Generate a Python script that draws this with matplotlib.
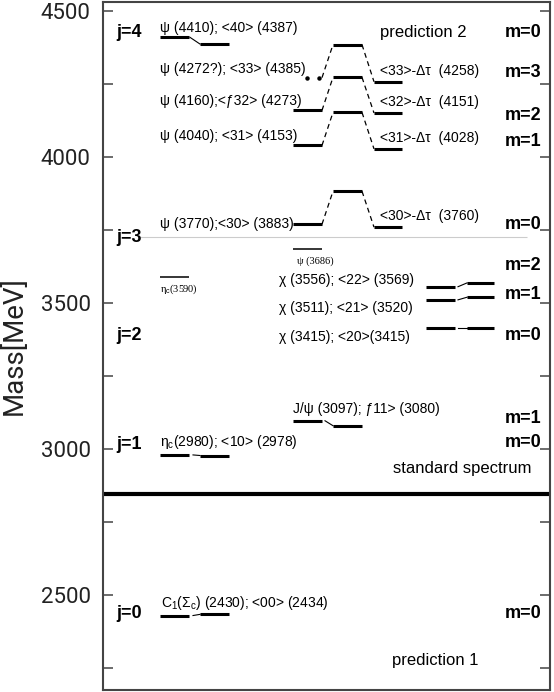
import matplotlib.pyplot as plt
from matplotlib.ticker import MultipleLocator

plt.rcParams['font.family'] = ['Liberation Sans', 'DejaVu Sans']
plt.rcParams['mathtext.fontset'] = 'custom'
plt.rcParams['mathtext.rm'] = 'Liberation Sans'
plt.rcParams['mathtext.it'] = 'Liberation Sans:italic'

# --- data (masses in MeV) ---
j4_pair = [4410, 4387]            # psi(4410) ; <40>
p2_exp = [4272, 4160, 4040, 3770]      # measured
p2_model = [4385, 4273, 4153, 3883]    # <jm>
p2_shift = [4258, 4151, 4028, 3760]    # <jm> - delta tau
p2_left_names = ["ψ (4272?); <33> (4385)", "ψ (4160);<ƒ32> (4273)",
                 "ψ (4040); <31> (4153)", "ψ (3770);<30> (3883)"]
p2_right_names = ["<33>-Δτ  (4258)", "<32>-Δτ  (4151)",
                  "<31>-Δτ  (4028)", "<30>-Δτ  (3760)"]
chi_exp = [3556, 3511, 3415]
chi_model = [3569, 3520, 3415]
chi_names = ["χ (3556); <22> (3569)", "χ (3511); <21> (3520)",
             "χ (3415); <20>(3415)"]
jpsi_pair = [3097, 3080]
etac_pair = [2980, 2978]
c1_pair = [2430, 2434]
psi_3686 = 3686
etac_3590 = 3590
standard_line = 2845
j3_separator = 3725

j_labels = ["j=4", "j=3", "j=2", "j=1", "j=0"]
j_label_pos = [4425, 3723, 3390, 3014, 2438]
m_labels = ["m=0", "m=3", "m=2", "m=1", "m=0", "m=2", "m=1", "m=0",
            "m=1", "m=0", "m=0"]
m_label_pos = [4425, 4291, 4142, 4053, 3770, 3627, 3531, 3390,
               3106, 3021, 2438]

# --- layout (x in pixel-like units) ---
col_a = (160, 189)
col_a2 = (200, 229)
col_b = (293, 322)
col_c = (333, 362)
col_d = (374, 402)
col_e = (426, 455)
col_f = (467, 494)
lw_lev = 2.2
fs = 10

fig = plt.figure(figsize=(5.54, 6.92), dpi=100)
ax = fig.add_axes([103/554, 2/692, 447/554, 688/692])
ax.set_xlim(103, 550)
ax.set_ylim(2175, 4531)


def label(x, y, s, dy=0, **kw):
    ax.annotate(s, xy=(x, y), xytext=(0, dy), textcoords='offset points',
                va='center', ha='left', fontsize=kw.pop('fontsize', fs), **kw)


# j=4 group
ax.hlines(j4_pair[0], *col_a, lw=lw_lev, color='k')
ax.hlines(j4_pair[1], *col_a2, lw=lw_lev, color='k')
ax.plot([190, 200], j4_pair, lw=0.8, color='k')
label(160, j4_pair[0], "ψ (4410); <40> (4387)", dy=7)

# prediction 2 groups
for i in range(len(p2_exp)):
    e, m, s = p2_exp[i], p2_model[i], p2_shift[i]
    if i == 0:
        ax.plot([307, 319], [e, e], ls='none', marker='o', ms=2.2, color='k')
    else:
        ax.hlines(e, *col_b, lw=lw_lev, color='k')
    ax.hlines(m, *col_c, lw=lw_lev, color='k')
    ax.hlines(s, *col_d, lw=lw_lev, color='k')
    ax.plot([322, 333], [e, m], lw=0.9, color='k', dashes=(4, 3))
    ax.plot([362, 374], [m, s], lw=0.9, color='k', dashes=(4, 3))
    label(160, e, p2_left_names[i], dy=0 if i == 3 else 6.5)
    label(380, s, p2_right_names[i], dy=8)

# separator between j=3 and j=2
ax.hlines(j3_separator, 140, 527, lw=0.8, color='#cccccc')

# thin reference levels
ax.hlines(psi_3686, *col_b, lw=1.1, color='k')
label(297, psi_3686, "ψ (3686)", dy=-9, fontsize=7.5, family='Liberation Serif')
ax.hlines(etac_3590, *col_a, lw=1.1, color='k')
label(160, etac_3590, r"η$_\mathrm{c}$(3590)", dy=-9, fontsize=7.5,
      family='Liberation Serif')

# chi states
chi_dy = [5, -6, -6.5]
for i in range(len(chi_exp)):
    ax.hlines(chi_exp[i], *col_e, lw=lw_lev, color='k')
    ax.hlines(chi_model[i], *col_f, lw=lw_lev, color='k')
    ax.plot([458, 467], [chi_exp[i], chi_model[i]], lw=0.8, color='k')
    label(279, chi_exp[i], chi_names[i], dy=chi_dy[i])

# J/psi
ax.hlines(jpsi_pair[0], *col_b, lw=lw_lev, color='k')
ax.hlines(jpsi_pair[1], *col_c, lw=lw_lev, color='k')
ax.plot([325, 333], jpsi_pair, lw=0.8, color='k')
label(293, jpsi_pair[0], "J/ψ (3097); ƒ11> (3080)", dy=8.5)

# eta_c
ax.hlines(etac_pair[0], *col_a, lw=lw_lev, color='k')
ax.hlines(etac_pair[1], *col_a2, lw=lw_lev, color='k')
ax.plot([193, 200], etac_pair, lw=0.8, color='k')
label(160, etac_pair[0], r"η$_\mathrm{c}$(2980); <10> (2978)", dy=9)

# C1
ax.hlines(c1_pair[0], *col_a, lw=lw_lev, color='k')
ax.hlines(c1_pair[1], *col_a2, lw=lw_lev, color='k')
ax.plot([193, 200], c1_pair, lw=0.8, color='k')
label(161, c1_pair[0], r"C$_\mathrm{1}$(Σ$_\mathrm{c}$) (2430); <00> (2434)", dy=9)

# standard spectrum boundary
ax.axhline(standard_line, lw=3, color='k')

ax.text(380, 4425, "prediction 2", fontsize=12, va='center')
ax.text(393, 2935, "standard spectrum", fontsize=12, va='center')
ax.text(392, 2275, "prediction 1", fontsize=12, va='center')

for s, y in zip(j_labels, j_label_pos):
    ax.text(116, y, s, fontsize=13, fontweight='bold', va='center')
for s, y in zip(m_labels, m_label_pos):
    ax.text(505, y, s, fontsize=13, fontweight='bold', va='center')

# axes styling
ax.yaxis.set_major_locator(MultipleLocator(500))
ax.yaxis.set_minor_locator(MultipleLocator(250))
ax.set_xticks([])
ax.tick_params(axis='y', which='both', direction='in', length=7, width=1.1,
               color='#444444', left=True, right=True, pad=9)
ax.tick_params(axis='y', which='major', labelsize=16)
for t in ax.get_yticklabels():
    t.set_family(['Roboto', 'DejaVu Sans'])
    t.set_color('#222222')
for sp in ax.spines.values():
    sp.set_color('#444444')
    sp.set_linewidth(1.5)

ax.set_ylabel("Mass[MeV]", fontsize=20, family=['Roboto', 'DejaVu Sans'],
              color='#222222')
ax.yaxis.set_label_coords(-0.168, 0.5)

fig.savefig("out.png", dpi=100)
